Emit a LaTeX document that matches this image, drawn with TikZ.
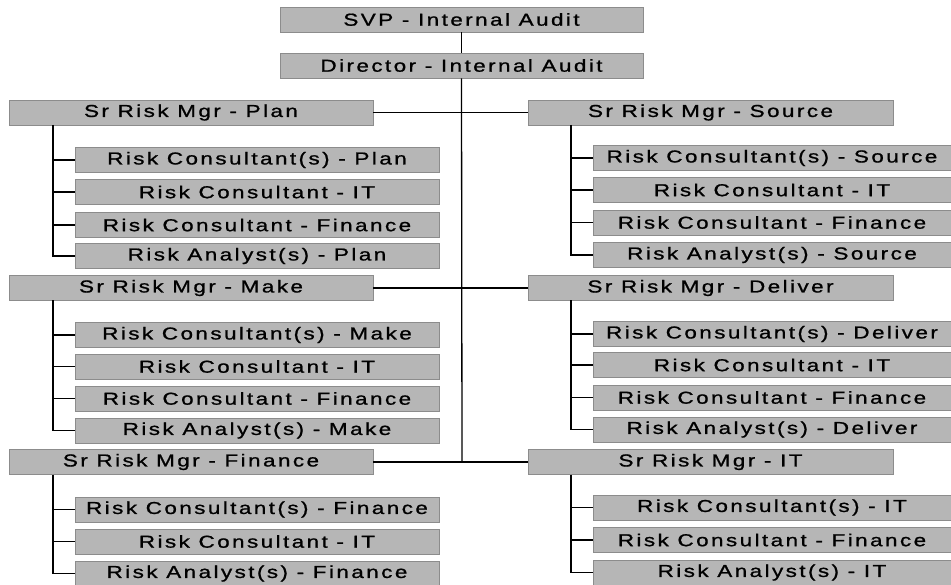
\documentclass[tikz,border=0pt]{standalone}
\usepackage{fontspec}
\setmainfont{Liberation Sans}[FakeStretch=1.3,LetterSpace=14,FakeBold=1]
\definecolor{boxgray}{RGB}{182,182,182}
\definecolor{boxedge}{RGB}{140,140,140}
\begin{document}
\begin{tikzpicture}[x=1pt,y=-1pt,
  box/.style={draw=boxedge,fill=boxgray,line width=0.6pt,minimum height=25pt,inner sep=0pt,font=\fontsize{17.3}{17.3}\selectfont,text=black},
  topbox/.style={box,minimum width=363pt},
  mgrbox/.style={box,minimum width=364pt},
  lchild/.style={box,minimum width=364pt},
  rchild/.style={box,minimum width=358pt},
  link/.style={draw=black,line width=1.3pt}]
\useasboundingbox (0,0) rectangle (951,585);
% top
\node[topbox] (svp) at (461.5,19.5) {SVP - Internal Audit};
\node[topbox] (dir) at (461.5,65.5) {Director - Internal Audit};
\coordinate (trunkend) at (462,462);
% managers
\node[mgrbox] (plan) at (191,112.5) {Sr Risk Mgr - Plan};
\node[mgrbox,minimum width=365pt] (source) at (710.5,112.5) {Sr Risk Mgr - Source};
\node[mgrbox] (make) at (191,288) {Sr Risk Mgr - Make};
\node[mgrbox,minimum width=365pt] (deliver) at (710.5,288) {Sr Risk Mgr - Deliver};
\node[mgrbox] (fin) at (191,462) {Sr Risk Mgr - Finance};
\node[mgrbox,minimum width=365pt] (it) at (710.5,462) {Sr Risk Mgr - IT};
% left children
\node[lchild] (p1) at (257,160) {Risk Consultant(s) - Plan};
\node[lchild] (p2) at (257,192) {Risk Consultant - IT};
\node[lchild] (p3) at (257,225) {Risk Consultant - Finance};
\node[lchild] (p4) at (257,256) {Risk Analyst(s) - Plan};
\node[lchild] (m1) at (257,335) {Risk Consultant(s) - Make};
\node[lchild] (m2) at (257,366.5) {Risk Consultant - IT};
\node[lchild] (m3) at (257,398.5) {Risk Consultant - Finance};
\node[lchild] (m4) at (257,430.5) {Risk Analyst(s) - Make};
\node[lchild] (f1) at (257,509.5) {Risk Consultant(s) - Finance};
\node[lchild] (f2) at (257,541.5) {Risk Consultant - IT};
\node[lchild] (f3) at (257,573.5) {Risk Analyst(s) - Finance};
% right children
\node[rchild] (s1) at (772,158) {Risk Consultant(s) - Source};
\node[rchild] (s2) at (772,190) {Risk Consultant - IT};
\node[rchild] (s3) at (772,222.5) {Risk Consultant - Finance};
\node[rchild] (s4) at (772,255) {Risk Analyst(s) - Source};
\node[rchild] (d1) at (772,334) {Risk Consultant(s) - Deliver};
\node[rchild] (d2) at (772,365) {Risk Consultant - IT};
\node[rchild] (d3) at (772,397.5) {Risk Consultant - Finance};
\node[rchild] (d4) at (772,429.5) {Risk Analyst(s) - Deliver};
\node[rchild] (i1) at (772,507.5) {Risk Consultant(s) - IT};
\node[rchild] (i2) at (772,540) {Risk Consultant - Finance};
\node[rchild] (i3) at (772,572.5) {Risk Analyst(s) - IT};
% trunk
\draw[link] (svp.south) -- (dir.north);
\draw[link] (dir.south) -- (trunkend);
\draw[link] (plan.east) -- (source.west);
\draw[link] (make.east) -- (deliver.west);
\draw[link] (fin.east) -- (it.west);
% brackets
\coordinate (pb) at (53,125);
\coordinate (mb) at (53,300.5);
\coordinate (fb) at (53,474.5);
\coordinate (sb) at (571,125);
\coordinate (db) at (571,300.5);
\coordinate (ib) at (571,474.5);
\draw[link] (pb) |- (p4.west);
\foreach \c in {p1,p2,p3} \draw[link] (pb |- \c.west) -- (\c.west);
\draw[link] (mb) |- (m4.west);
\foreach \c in {m1,m2,m3} \draw[link] (mb |- \c.west) -- (\c.west);
\draw[link] (fb) |- (f3.west);
\foreach \c in {f1,f2} \draw[link] (fb |- \c.west) -- (\c.west);
\draw[link] (sb) |- (s4.west);
\foreach \c in {s1,s2,s3} \draw[link] (sb |- \c.west) -- (\c.west);
\draw[link] (db) |- (d4.west);
\foreach \c in {d1,d2,d3} \draw[link] (db |- \c.west) -- (\c.west);
\draw[link] (ib) |- (i3.west);
\foreach \c in {i1,i2} \draw[link] (ib |- \c.west) -- (\c.west);
\end{tikzpicture}
\end{document}
